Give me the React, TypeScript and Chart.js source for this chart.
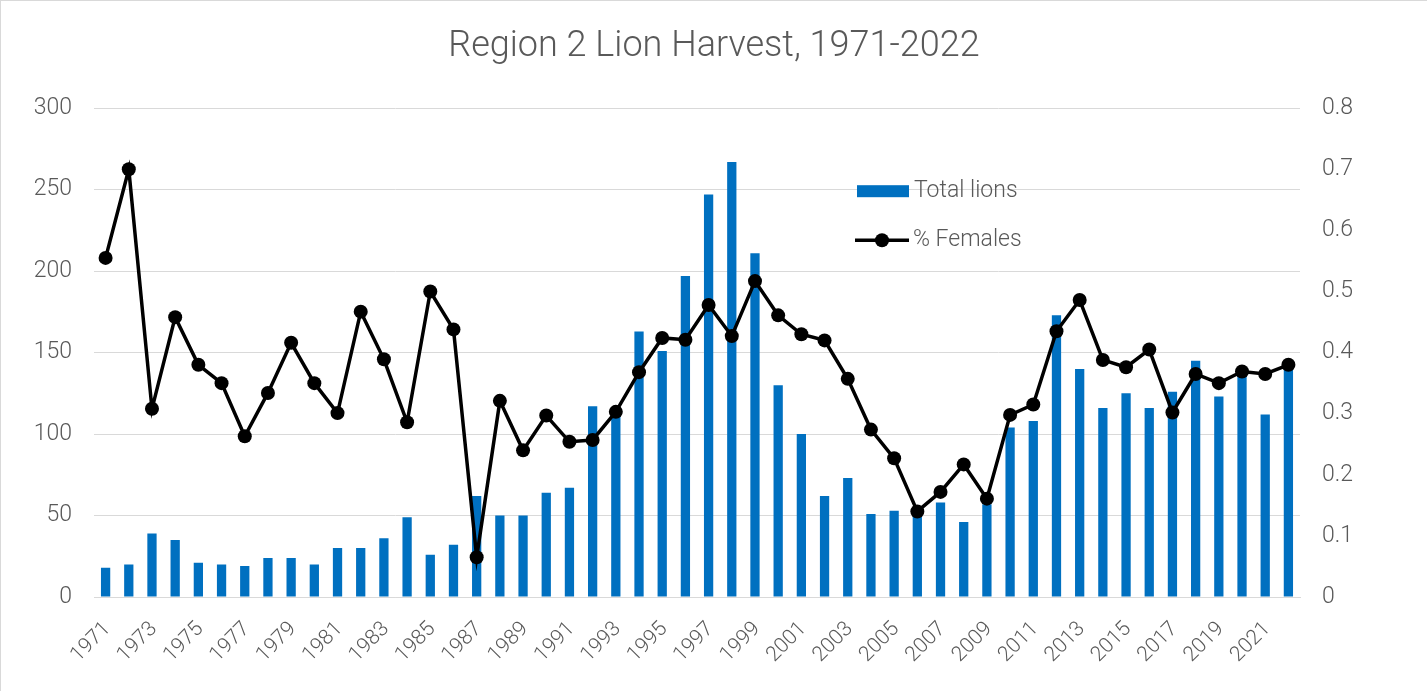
import React, { useEffect, useRef } from "react";
import { Chart, registerables } from "chart.js";

Chart.register(...registerables);

const years = [
  "1971","1972","1973","1974","1975","1976","1977","1978","1979","1980",
  "1981","1982","1983","1984","1985","1986","1987","1988","1989","1990",
  "1991","1992","1993","1994","1995","1996","1997","1998","1999","2000",
  "2001","2002","2003","2004","2005","2006","2007","2008","2009","2010",
  "2011","2012","2013","2014","2015","2016","2017","2018","2019","2020",
  "2021","2022",
];

const totalLions = [
  18, 20, 39, 35, 21, 20, 19, 24, 24, 20,
  30, 30, 36, 49, 26, 32, 62, 50, 50, 64,
  67, 117, 112, 163, 151, 197, 247, 267, 211, 130,
  100, 62, 73, 51, 53, 50, 58, 46, 57, 104,
  108, 173, 140, 116, 125, 116, 126, 145, 123, 136,
  112, 140,
];

const pctFemales = [
  0.555, 0.70, 0.308, 0.458, 0.380, 0.350, 0.263, 0.334, 0.416, 0.350,
  0.301, 0.467, 0.389, 0.286, 0.500, 0.438, 0.065, 0.321, 0.240, 0.297,
  0.254, 0.257, 0.303, 0.368, 0.424, 0.421, 0.478, 0.427, 0.517, 0.461,
  0.430, 0.420, 0.357, 0.274, 0.227, 0.140, 0.172, 0.217, 0.161, 0.298,
  0.315, 0.435, 0.486, 0.388, 0.376, 0.405, 0.302, 0.365, 0.350, 0.369,
  0.365, 0.380,
];

const TITLE = "Region 2 Lion Harvest, 1971-2022";
const BAR_LABEL = "Total lions";
const LINE_LABEL = "% Females";
const BLUE = "#0070C0";
const TEXT = "#595959";
const GRID = "#d9d9d9";
const FONT = "Roboto, 'Open Sans', sans-serif";

const legendPlugin = {
  id: "insideLegend",
  afterDatasetsDraw(chart: any) {
    const { ctx, chartArea } = chart;
    const x = chartArea.left + 763;
    const y1 = chartArea.top + 83;
    const y2 = chartArea.top + 132;
    ctx.save();
    ctx.fillStyle = BLUE;
    ctx.fillRect(x, y1 - 6, 52, 12);
    ctx.strokeStyle = "#000";
    ctx.lineWidth = 3.5;
    ctx.beginPath();
    ctx.moveTo(x - 2, y2);
    ctx.lineTo(x + 52, y2);
    ctx.stroke();
    ctx.fillStyle = "#000";
    ctx.beginPath();
    ctx.arc(x + 25, y2, 7, 0, Math.PI * 2);
    ctx.fill();
    ctx.fillStyle = TEXT;
    ctx.font = `300 23px ${FONT}`;
    ctx.textBaseline = "middle";
    ctx.textAlign = "left";
    ctx.fillText(BAR_LABEL, x + 57, y1);
    ctx.fillText(LINE_LABEL, x + 56, y2);
    ctx.restore();
  },
};

export default function App() {
  const ref = useRef<HTMLCanvasElement | null>(null);

  useEffect(() => {
    document.body.style.margin = "0";
    const canvas = ref.current;
    if (!canvas) return;
    const chart = new Chart(canvas, {
      type: "bar",
      data: {
        labels: years,
        datasets: [
          {
            type: "line",
            label: LINE_LABEL,
            data: pctFemales,
            yAxisID: "y1",
            borderColor: "#000",
            backgroundColor: "#000",
            borderWidth: 3.5,
            pointRadius: 7,
            pointBackgroundColor: "#000",
            pointBorderWidth: 0,
            tension: 0,
            order: 0,
          },
          {
            type: "bar",
            label: BAR_LABEL,
            data: totalLions,
            yAxisID: "y",
            backgroundColor: BLUE,
            barPercentage: 0.8,
            categoryPercentage: 0.5,
            order: 1,
          },
        ],
      },
      options: {
        animation: false,
        responsive: false,
        maintainAspectRatio: false,
        layout: { padding: { left: 0, right: 0, top: 0, bottom: 0 } },
        plugins: {
          legend: { display: false },
          tooltip: { enabled: false },
          title: {
            display: true,
            text: TITLE,
            color: TEXT,
            font: { family: FONT, size: 36, weight: "300" as any },
            padding: { top: 24, bottom: 40 },
          },
        },
        scales: {
          x: {
            grid: { display: false, drawTicks: false },
            border: { display: true, color: GRID, width: 1 },
            ticks: {
              color: TEXT,
              font: { family: FONT, size: 21, weight: "300" as any },
              autoSkip: false,
              maxRotation: 45,
              minRotation: 45,
              labelOffset: 2,
              padding: 20,
              callback: (_v: any, i: number) => (i % 2 === 0 ? years[i] : null),
            },
            afterFit: (s: any) => { s.height = 94; },
          },
          y: {
            position: "left",
            min: 0,
            max: 300,
            grid: { color: GRID, lineWidth: 1, drawTicks: false },
            border: { display: false },
            ticks: {
              stepSize: 50,
              color: TEXT,
              font: { family: FONT, size: 23, weight: "300" as any },
              padding: 22,
            },
            afterFit: (s: any) => { s.width = 93; },
          },
          y1: {
            position: "right",
            min: 0,
            max: 0.8,
            grid: { display: false, drawTicks: false },
            border: { display: false },
            ticks: {
              stepSize: 0.1,
              color: TEXT,
              font: { family: FONT, size: 23, weight: "300" as any },
              padding: 22,
              callback: (v: any) => (v === 0 ? "0" : Number(v).toFixed(1)),
            },
            afterFit: (s: any) => { s.width = 127; },
          },
        },
      },
      plugins: [legendPlugin],
    });
    return () => chart.destroy();
  }, []);

  return (
    <div
      style={{
        position: "relative",
        width: 1427,
        height: 691,
        boxSizing: "border-box",
        borderLeft: `1px solid ${GRID}`,
        borderTop: `1px solid ${GRID}`,
        background: "#fff",
      }}
    >
      <canvas ref={ref} width={1426} height={690} style={{ display: "block" }} />
    </div>
  );
}
